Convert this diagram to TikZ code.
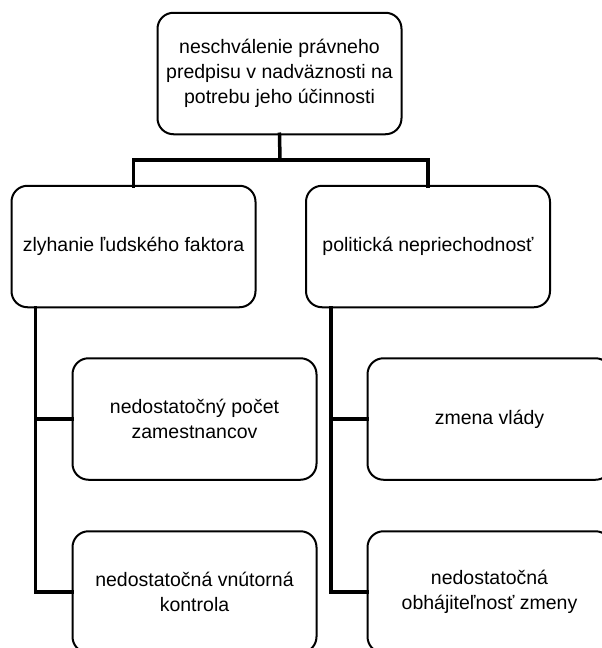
\documentclass[tikz,border=0pt]{standalone}
\usepackage{fontspec}
\setmainfont{Liberation Sans}
\begin{document}
\begin{tikzpicture}[x=1pt,y=-1pt,
  box/.style={draw=black, line width=2pt, rounded corners=16pt, fill=white,
    minimum width=244pt, minimum height=121.5pt, inner sep=0pt, outer sep=0pt,
    align=center, font=\fontsize{19.5}{25}\selectfont},
  conn/.style={draw=black, line width=3.5pt, line cap=rect}]
\clip (0,0) rectangle (602,648);
\fill[white] (0,0) rectangle (602,648);
\coordinate (bar) at (280,160);
% connectors first (boxes drawn on top)
\node[box] (top) at (279.5,73.5) {neschválenie právneho\\predpisu v nadväznosti na\\potrebu jeho účinnosti};
\node[box] (lp) at (133.5,246.5) {zlyhanie ľudského faktora};
\node[box] (rp) at (428,246.5) {politická nepriechodnosť};
\node[box] (lc1) at (194.5,419) {nedostatočný počet\\zamestnancov};
\node[box] (lc2) at (194.5,592) {nedostatočná vnútorná\\kontrola};
\node[box] (rc1) at (489.5,419) {zmena vlády};
\node[box] (rc2) at (489.5,592) {nedostatočná\\obhájiteľnosť zmeny};
\coordinate (sl) at ([xshift=24pt]lp.south west);
\coordinate (sr) at ([xshift=25pt]rp.south west);
\draw[conn] (top.south) -- (bar);
\draw[conn] (lp.north) -- (lp.north |- bar) -- (rp.north |- bar) -- (rp.north);
\draw[conn] (sl) |- (lc2.west);
\draw[conn] (sl |- lc1.west) -- (lc1.west);
\draw[conn] (sr) |- (rc2.west);
\draw[conn] (sr |- rc1.west) -- (rc1.west);
\end{tikzpicture}
\end{document}
